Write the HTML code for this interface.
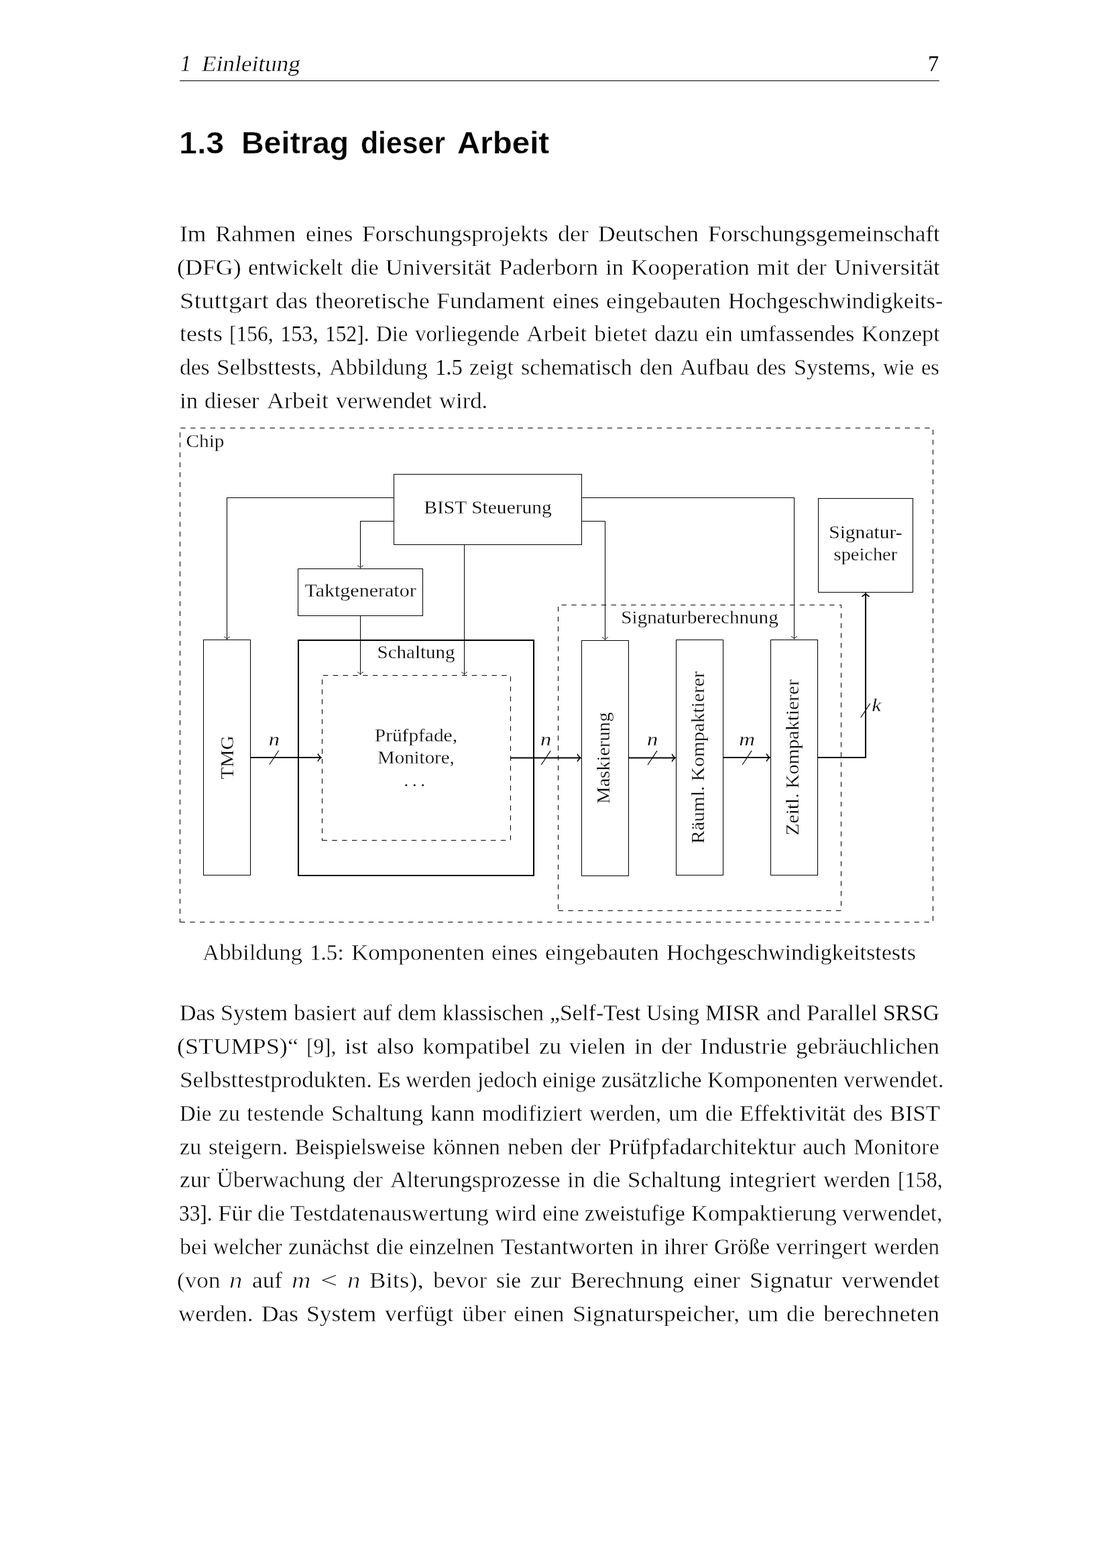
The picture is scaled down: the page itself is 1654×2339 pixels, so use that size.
<!DOCTYPE html>
<html lang="de">
<head>
<meta charset="utf-8">
<title>1.3 Beitrag dieser Arbeit</title>
<style>
html,body{margin:0;padding:0;background:#fff}
body{width:1654px;height:2339px;position:relative;color:#000}
.page{will-change:transform;position:absolute;left:0;top:0;width:1654px;height:2339px;background:#fff;overflow:hidden}
header,h2,p,figure,figcaption{margin:0;padding:0;font-weight:normal;font-size:inherit}
.ln{position:absolute;left:0;width:1654px;height:0;display:block}
.w{position:absolute;top:0;white-space:pre;line-height:1;transform-origin:0 0;display:block}
.rm,.sl{font-family:"Liberation Serif",serif}
.mi{font-family:"Liberation Serif",serif;font-style:italic}
.sf{font-family:"Liberation Sans",sans-serif;font-weight:bold}
.b{font-size:33.000px;color:#000;-webkit-text-stroke:0.46px #fff}
.h{font-size:33.000px;color:#000;-webkit-text-stroke:0.36px #fff}
.s{font-size:46.500px;color:#000;-webkit-text-stroke:0.28px #fff}
.b.c,.h.c{-webkit-text-stroke-width:0.26px}
.b.mi{-webkit-text-stroke-width:0.7px}
.rule{position:absolute;left:268px;top:119.85px;width:1133.3px;height:1.15px;background:#000}
svg{position:absolute;left:0;top:0}
svg text{font-family:"Liberation Serif",serif;font-size:26.800px;fill:#000;stroke:#fff;stroke-width:0.26px}
svg .i{font-style:italic}

</style>
</head>
<body>
<div class="page">
<header><span class="ln" style="top:78.77px"><span class="w sl c h" style="left:267.15px;transform:translateY(-1.24px) translateX(4.60px) scale(0.9854,1.0450) skewX(-9.46deg);-webkit-text-stroke-width:0.24px">1</span> <span class="w sl h" style="left:299.68px;transform:translateX(4.60px) scaleX(1.0673) skewX(-9.46deg);-webkit-text-stroke-width:0.38px">Einleitung</span> <span class="w rm c h" style="left:1383.86px;transform:translateY(-1.24px) scale(0.9854,1.0450);-webkit-text-stroke-width:0.01px">7</span></span><div class="rule"></div></header>
<h2><span class="ln" style="top:190.04px"><span class="w sf s" style="left:266.95px;transform:scaleX(1.0396);-webkit-text-stroke-width:0.48px">1.3</span> <span class="w sf s" style="left:360.47px;transform:scaleX(1.0003);-webkit-text-stroke-width:0.40px">Beitrag</span> <span class="w sf s" style="left:538.28px;transform:scaleX(0.9189);-webkit-text-stroke-width:0.27px">dieser</span> <span class="w sf s" style="left:681.69px;transform:scaleX(1.0209);-webkit-text-stroke-width:0.26px">Arbeit</span></span></h2>
<p><span class="ln" style="top:333.07px"><span class="w rm b" style="left:267.55px;transform:scaleX(1.0800);-webkit-text-stroke-width:0.37px">Im</span> <span class="w rm b" style="left:321.38px;transform:scaleX(1.0928);-webkit-text-stroke-width:0.46px">Rahmen</span> <span class="w rm b" style="left:455.80px;transform:scaleX(1.0353);-webkit-text-stroke-width:0.47px">eines</span> <span class="w rm b" style="left:540.20px;transform:scaleX(1.0734);-webkit-text-stroke-width:0.41px">Forschungsprojekts</span> <span class="w rm b" style="left:831.89px;transform:scaleX(1.0932);-webkit-text-stroke-width:0.53px">der</span> <span class="w rm b" style="left:892.15px;transform:scaleX(1.0761);-webkit-text-stroke-width:0.46px">Deutschen</span> <span class="w rm b" style="left:1056.27px;transform:scaleX(1.0536);-webkit-text-stroke-width:0.41px">Forschungsgemeinschaft</span></span>
<span class="ln" style="top:382.86px"><span class="w rm c b" style="left:263.74px;transform:translateY(-1.24px) scale(1.0883,1.0450);-webkit-text-stroke-width:0.40px">(DFG)</span> <span class="w rm b" style="left:370.39px;transform:scaleX(1.0296);-webkit-text-stroke-width:0.38px">entwickelt</span> <span class="w rm b" style="left:522.78px;transform:scaleX(1.0283);-webkit-text-stroke-width:0.46px">die</span> <span class="w rm b" style="left:575.15px;transform:scaleX(1.0767);-webkit-text-stroke-width:0.42px">Universität</span> <span class="w rm b" style="left:743.91px;transform:scaleX(1.0932);-webkit-text-stroke-width:0.50px">Paderborn</span> <span class="w rm b" style="left:903.07px;transform:scaleX(1.0535);-webkit-text-stroke-width:0.51px">in</span> <span class="w rm b" style="left:940.98px;transform:scaleX(1.0712);-webkit-text-stroke-width:0.45px">Kooperation</span> <span class="w rm b" style="left:1128.55px;transform:scaleX(1.1060);-webkit-text-stroke-width:0.49px">mit</span> <span class="w rm b" style="left:1188.10px;transform:scaleX(1.0696);-webkit-text-stroke-width:0.50px">der</span> <span class="w rm b" style="left:1244.08px;transform:scaleX(1.0767);-webkit-text-stroke-width:0.42px">Universität</span></span>
<span class="ln" style="top:432.66px"><span class="w rm b" style="left:267.55px;transform:scaleX(1.1706);-webkit-text-stroke-width:0.50px">Stuttgart</span> <span class="w rm b" style="left:411.40px;transform:scaleX(1.0812);-webkit-text-stroke-width:0.43px">das</span> <span class="w rm b" style="left:469.80px;transform:scaleX(1.0701);-webkit-text-stroke-width:0.46px">theoretische</span> <span class="w rm b" style="left:651.24px;transform:scaleX(1.0896);-webkit-text-stroke-width:0.47px">Fundament</span> <span class="w rm b" style="left:823.83px;transform:scaleX(1.0241);-webkit-text-stroke-width:0.39px">eines</span> <span class="w rm b" style="left:904.10px;transform:scaleX(1.0747);-webkit-text-stroke-width:0.52px">eingebauten</span> <span class="w rm b" style="left:1086.24px;transform:scaleX(1.0278);-webkit-text-stroke-width:0.38px">Hochgeschwindigkeits-</span></span>
<span class="ln" style="top:482.46px"><span class="w rm b" style="left:267.55px;transform:scaleX(1.0923);-webkit-text-stroke-width:0.47px">tests</span> <span class="w rm c b" style="left:342.11px;transform:translateY(-1.24px) scale(0.9528,1.0450);-webkit-text-stroke-width:0.29px">[156,</span> <span class="w rm c b" style="left:418.07px;transform:translateY(-1.24px) scale(0.9810,1.0450);-webkit-text-stroke-width:0.19px">153,</span> <span class="w rm c b" style="left:485.20px;transform:translateY(-1.24px) scale(0.9528,1.0450);-webkit-text-stroke-width:0.23px">152].</span> <span class="w rm b" style="left:561.15px;transform:scaleX(0.9936);-webkit-text-stroke-width:0.38px">Die</span> <span class="w rm b" style="left:618.98px;transform:scaleX(0.9999);-webkit-text-stroke-width:0.46px">vorliegende</span> <span class="w rm b" style="left:785.24px;transform:scaleX(1.0707);-webkit-text-stroke-width:0.46px">Arbeit</span> <span class="w rm b" style="left:885.99px;transform:scaleX(1.0867);-webkit-text-stroke-width:0.57px">bietet</span> <span class="w rm b" style="left:976.14px;transform:scaleX(1.0515);-webkit-text-stroke-width:0.46px">dazu</span> <span class="w rm b" style="left:1052.09px;transform:scaleX(1.0097);-webkit-text-stroke-width:0.48px">ein</span> <span class="w rm b" style="left:1103.29px;transform:scaleX(1.0162);-webkit-text-stroke-width:0.46px">umfassendes</span> <span class="w rm b" style="left:1285.11px;transform:scaleX(1.0451);-webkit-text-stroke-width:0.45px">Konzept</span></span>
<span class="ln" style="top:532.26px"><span class="w rm b" style="left:267.55px;transform:scaleX(1.0151);-webkit-text-stroke-width:0.52px">des</span> <span class="w rm b" style="left:323.07px;transform:scaleX(1.0645);-webkit-text-stroke-width:0.45px">Selbsttests,</span> <span class="w rm b" style="left:491.02px;transform:scaleX(1.0398);-webkit-text-stroke-width:0.47px">Abbildung</span> <span class="w rm c b" style="left:648.67px;transform:translateY(-1.24px) scale(0.9922,1.0450);-webkit-text-stroke-width:0.20px">1.5</span> <span class="w rm b" style="left:700.43px;transform:scaleX(1.0265);-webkit-text-stroke-width:0.49px">zeigt</span> <span class="w rm b" style="left:777.13px;transform:scaleX(1.0280);-webkit-text-stroke-width:0.41px">schematisch</span> <span class="w rm b" style="left:953.78px;transform:scaleX(1.0455);-webkit-text-stroke-width:0.52px">den</span> <span class="w rm b" style="left:1014.46px;transform:scaleX(1.0427);-webkit-text-stroke-width:0.45px">Aufbau</span> <span class="w rm b" style="left:1128.49px;transform:scaleX(1.0151);-webkit-text-stroke-width:0.52px">des</span> <span class="w rm b" style="left:1184.01px;transform:scaleX(1.0335);-webkit-text-stroke-width:0.40px">Systems,</span> <span class="w rm b" style="left:1317.08px;transform:scaleX(0.9708);-webkit-text-stroke-width:0.38px">wie</span> <span class="w rm b" style="left:1374.21px;transform:scaleX(0.9770);-webkit-text-stroke-width:0.41px">es</span></span>
<span class="ln" style="top:582.06px"><span class="w rm b" style="left:267.55px;transform:scaleX(1.0556);-webkit-text-stroke-width:0.47px">in</span> <span class="w rm b" style="left:305.47px;transform:scaleX(1.0340);-webkit-text-stroke-width:0.43px">dieser</span> <span class="w rm b" style="left:397.81px;transform:scaleX(1.0925);-webkit-text-stroke-width:0.47px">Arbeit</span> <span class="w rm b" style="left:500.75px;transform:scaleX(1.0451);-webkit-text-stroke-width:0.46px">verwendet</span> <span class="w rm b" style="left:655.21px;transform:scaleX(1.0511);-webkit-text-stroke-width:0.45px">wird.</span></span></p>
<figure>
<svg width="1654" height="2339" viewBox="0 0 1654 2339" fill="none" stroke="#000">
<path d="M303.50 1305.50H373.50V954.50H303.50Z" stroke-width="1.030"/>
<path d="M445.00 1306.00H796.00V955.00H445.00Z" stroke-width="2.060"/>
<path d="M480.50 1253.50H761.50V1007.50H480.50Z" stroke-width="1.030" stroke-dasharray="7.40 7.40"/>
<path d="M867.50 1306.50H937.50V955.50H867.50Z" stroke-width="1.030"/>
<path d="M1008.50 1305.50H1078.50V954.50H1008.50Z" stroke-width="1.030"/>
<path d="M1149.50 1305.50H1219.50V954.50H1149.50Z" stroke-width="1.030"/>
<path d="M587.50 812.50H867.50V707.50H587.50Z" stroke-width="1.030"/>
<path d="M444.50 918.50H630.50V848.50H444.50Z" stroke-width="1.030"/>
<path d="M1220.50 883.50H1361.50V743.50H1220.50Z" stroke-width="1.030"/>
<path d="M832.50 1358.50H1254.50V902.50H832.50Z" stroke-width="1.030" stroke-dasharray="7.40 7.40"/>
<path d="M268.50 1375.50H1391.50V638.50H268.50Z" stroke-width="1.030" stroke-dasharray="7.40 7.40"/>
<path d="M587.44 742.50L338.50 742.50L338.50 952.96" stroke-width="1.030"/>
<path d="M334.54 949.99C336.03 950.24 338.25 952.96 338.50 953.70C338.75 952.96 340.97 950.24 342.46 949.99" stroke-width="1.000" stroke-linecap="round" stroke-linejoin="round"/>
<path d="M587.44 777.50L537.50 777.50L537.50 846.66" stroke-width="1.030"/>
<path d="M533.54 843.69C535.03 843.94 537.25 846.66 537.50 847.40C537.75 846.66 539.97 843.94 541.46 843.69" stroke-width="1.000" stroke-linecap="round" stroke-linejoin="round"/>
<path d="M537.50 918.32L537.50 1005.71" stroke-width="1.030"/>
<path d="M533.54 1002.74C535.03 1002.99 537.25 1005.71 537.50 1006.45C537.75 1005.71 539.97 1002.99 541.46 1002.74" stroke-width="1.000" stroke-linecap="round" stroke-linejoin="round"/>
<path d="M692.50 812.14L692.50 1005.71" stroke-width="1.030"/>
<path d="M688.54 1002.74C690.03 1002.99 692.25 1005.71 692.50 1006.45C692.75 1005.71 694.97 1002.99 696.46 1002.74" stroke-width="1.000" stroke-linecap="round" stroke-linejoin="round"/>
<path d="M867.68 742.50L1184.50 742.50L1184.50 952.51" stroke-width="1.030"/>
<path d="M1180.54 949.54C1182.03 949.79 1184.25 952.51 1184.50 953.25C1184.75 952.51 1186.97 949.79 1188.46 949.54" stroke-width="1.000" stroke-linecap="round" stroke-linejoin="round"/>
<path d="M867.68 777.50L902.50 777.50L902.50 953.81" stroke-width="1.030"/>
<path d="M898.54 950.84C900.03 951.09 902.25 953.81 902.50 954.55C902.75 953.81 904.97 951.09 906.46 950.84" stroke-width="1.000" stroke-linecap="round" stroke-linejoin="round"/>
<path d="M373.56 1130.00L478.23 1130.00" stroke-width="2.060"/>
<path d="M474.37 1135.16C474.69 1133.22 478.23 1130.32 479.20 1130.00C478.23 1129.68 474.69 1126.78 474.37 1124.84" stroke-width="1.600" stroke-linecap="round" stroke-linejoin="round"/>
<path d="M761.64 1130.45L865.28 1130.45" stroke-width="2.060"/>
<path d="M861.42 1135.61C861.74 1133.67 865.28 1130.77 866.25 1130.45C865.28 1130.13 861.74 1127.23 861.42 1125.29" stroke-width="1.600" stroke-linecap="round" stroke-linejoin="round"/>
<path d="M937.45 1130.45L1006.33 1130.45" stroke-width="2.060"/>
<path d="M1002.47 1135.61C1002.79 1133.67 1006.33 1130.77 1007.30 1130.45C1006.33 1130.13 1002.79 1127.23 1002.47 1125.29" stroke-width="1.600" stroke-linecap="round" stroke-linejoin="round"/>
<path d="M1078.55 1130.00L1147.33 1130.00" stroke-width="2.060"/>
<path d="M1143.47 1135.16C1143.79 1133.22 1147.33 1130.32 1148.30 1130.00C1147.33 1129.68 1143.79 1126.78 1143.47 1124.84" stroke-width="1.600" stroke-linecap="round" stroke-linejoin="round"/>
<path d="M1219.70 1130.00L1291.00 1130.00L1291.00 885.67" stroke-width="2.060"/>
<path d="M1296.16 889.53C1294.22 889.21 1291.32 885.67 1291.00 884.70C1290.68 885.67 1287.78 889.21 1285.84 889.53" stroke-width="1.600" stroke-linecap="round" stroke-linejoin="round"/>
<path d="M401.80 1140.55L415.80 1119.45" stroke-width="1.150"/>
<path d="M807.20 1140.95L821.20 1119.85" stroke-width="1.150"/>
<path d="M966.00 1140.95L980.00 1119.85" stroke-width="1.150"/>
<path d="M1107.20 1140.75L1121.20 1119.65" stroke-width="1.150"/>
<path d="M1283.70 1070.45L1297.70 1049.35" stroke-width="1.150"/>
<text x="277.60" y="667.00" textLength="56.87" lengthAdjust="spacingAndGlyphs" stroke="#000" stroke-width="0.02">Chip</text>
<text x="632.34" y="766.00" textLength="190.52" lengthAdjust="spacingAndGlyphs" stroke-width="0.18">BIST Steuerung</text>
<text x="454.42" y="890.00" textLength="166.29" lengthAdjust="spacingAndGlyphs" stroke-width="0.26">Taktgenerator</text>
<text x="562.61" y="982.00" textLength="115.99" lengthAdjust="spacingAndGlyphs" stroke-width="0.26">Schaltung</text>
<text x="926.37" y="930.00" textLength="234.38" lengthAdjust="spacingAndGlyphs" stroke-width="0.30">Signaturberechnung</text>
<text x="1236.23" y="803.00" textLength="109.33" lengthAdjust="spacingAndGlyphs" stroke-width="0.38">Signatur-</text>
<text x="1243.64" y="836.00" textLength="94.51" lengthAdjust="spacingAndGlyphs" stroke-width="0.18">speicher</text>
<text x="558.81" y="1106.00" textLength="123.18" lengthAdjust="spacingAndGlyphs" stroke-width="0.14">Prüfpfade,</text>
<text x="563.11" y="1139.00" textLength="114.57" lengthAdjust="spacingAndGlyphs" stroke-width="0.18">Monitore,</text>
<text x="602.59" y="1173.00" textLength="31.42" lengthAdjust="spacing" stroke-width="0.46">...</text>
<text class="i" x="400.72" y="1112.00" textLength="16.16" lengthAdjust="spacingAndGlyphs" stroke-width="0.90">n</text>
<text class="i" x="806.12" y="1112.00" textLength="16.16" lengthAdjust="spacingAndGlyphs" stroke-width="0.98">n</text>
<text class="i" x="964.92" y="1112.00" textLength="16.16" lengthAdjust="spacingAndGlyphs" stroke-width="0.94">n</text>
<text class="i" x="1102.17" y="1112.00" textLength="23.65" lengthAdjust="spacingAndGlyphs" stroke-width="1.18">m</text>
<text class="i" x="1300.20" y="1061.00" textLength="14.04" lengthAdjust="spacingAndGlyphs" stroke-width="0.46">k</text>
<text transform="translate(347.77 1129.90) rotate(-90)" x="-32.65" y="0" textLength="65.30" lengthAdjust="spacingAndGlyphs" stroke-width="0.02">TMG</text>
<text transform="translate(909.17 1130.80) rotate(-90)" x="-68.20" y="0" textLength="136.40" lengthAdjust="spacingAndGlyphs" stroke-width="0.50">Maskierung</text>
<text transform="translate(1050.27 1129.95) rotate(-90)" x="-128.60" y="0" textLength="257.20" lengthAdjust="spacingAndGlyphs" stroke-width="0.30">Räuml. Kompaktierer</text>
<text transform="translate(1191.37 1129.80) rotate(-90)" x="-116.45" y="0" textLength="232.90" lengthAdjust="spacingAndGlyphs" stroke-width="0.38">Zeitl. Kompaktierer</text>
</svg>
<figcaption><span class="ln" style="top:1405.35px"><span class="w rm b" style="left:302.44px;transform:scaleX(1.0557);-webkit-text-stroke-width:0.51px">Abbildung</span> <span class="w rm c b" style="left:462.30px;transform:translateY(-1.24px) scale(1.0032,1.0450);-webkit-text-stroke-width:0.27px">1.5:</span> <span class="w rm b" style="left:523.74px;transform:scaleX(1.0626);-webkit-text-stroke-width:0.50px">Komponenten</span> <span class="w rm b" style="left:733.28px;transform:scaleX(1.0150);-webkit-text-stroke-width:0.43px">eines</span> <span class="w rm b" style="left:812.93px;transform:scaleX(1.0651);-webkit-text-stroke-width:0.53px">eingebauten</span> <span class="w rm b" style="left:993.57px;transform:scaleX(1.0352);-webkit-text-stroke-width:0.42px">Hochgeschwindigkeitstests</span></span></figcaption>
</figure>
<p><span class="ln" style="top:1495.34px"><span class="w rm b" style="left:267.55px;transform:scaleX(1.0294);-webkit-text-stroke-width:0.39px">Das</span> <span class="w rm b" style="left:329.17px;transform:scaleX(1.0307);-webkit-text-stroke-width:0.39px">System</span> <span class="w rm b" style="left:438.13px;transform:scaleX(1.0687);-webkit-text-stroke-width:0.46px">basiert</span> <span class="w rm b" style="left:540.90px;transform:scaleX(1.0293);-webkit-text-stroke-width:0.40px">auf</span> <span class="w rm b" style="left:593.06px;transform:scaleX(1.0281);-webkit-text-stroke-width:0.52px">dem</span> <span class="w rm b" style="left:660.24px;transform:scaleX(1.0045);-webkit-text-stroke-width:0.37px">klassischen</span> <span class="w rm b" style="left:820.01px;transform:scaleX(1.0162);-webkit-text-stroke-width:0.31px">„Self-Test</span> <span class="w rm b" style="left:964.24px;transform:scaleX(1.0013);-webkit-text-stroke-width:0.44px">Using</span> <span class="w rm c b" style="left:1051.97px;transform:translateY(-1.24px) scale(1.0142,1.0450);-webkit-text-stroke-width:0.30px">MISR</span> <span class="w rm b" style="left:1142.58px;transform:scaleX(1.0774);-webkit-text-stroke-width:0.52px">and</span> <span class="w rm b" style="left:1202.67px;transform:scaleX(1.0495);-webkit-text-stroke-width:0.41px">Parallel</span> <span class="w rm c b" style="left:1317.21px;transform:translateY(-1.24px) scale(1.0158,1.0450);-webkit-text-stroke-width:0.20px">SRSG</span></span>
<span class="ln" style="top:1545.14px"><span class="w rm c b" style="left:263.74px;transform:translateY(-1.24px) scale(1.0968,1.0450);-webkit-text-stroke-width:0.41px">(STUMPS)“</span> <span class="w rm c b" style="left:457.29px;transform:translateY(-1.24px) scale(0.9463,1.0450);-webkit-text-stroke-width:0.38px">[9],</span> <span class="w rm b" style="left:514.05px;transform:scaleX(1.1285);-webkit-text-stroke-width:0.40px">ist</span> <span class="w rm b" style="left:561.77px;transform:scaleX(1.0431);-webkit-text-stroke-width:0.34px">also</span> <span class="w rm b" style="left:629.77px;transform:scaleX(1.0860);-webkit-text-stroke-width:0.46px">kompatibel</span> <span class="w rm b" style="left:803.50px;transform:scaleX(1.0646);-webkit-text-stroke-width:0.42px">zu</span> <span class="w rm b" style="left:849.21px;transform:scaleX(1.0397);-webkit-text-stroke-width:0.47px">vielen</span> <span class="w rm b" style="left:945.58px;transform:scaleX(1.0767);-webkit-text-stroke-width:0.45px">in</span> <span class="w rm b" style="left:985.76px;transform:scaleX(1.0932);-webkit-text-stroke-width:0.51px">der</span> <span class="w rm b" style="left:1044.36px;transform:scaleX(1.1088);-webkit-text-stroke-width:0.45px">Industrie</span> <span class="w rm b" style="left:1186.97px;transform:scaleX(1.0623);-webkit-text-stroke-width:0.43px">gebräuchlichen</span></span>
<span class="ln" style="top:1594.94px"><span class="w rm b" style="left:267.55px;transform:scaleX(1.0692);-webkit-text-stroke-width:0.48px">Selbsttestprodukten.</span> <span class="w rm b" style="left:562.90px;transform:scaleX(1.0379);-webkit-text-stroke-width:0.28px">Es</span> <span class="w rm b" style="left:605.35px;transform:scaleX(1.0117);-webkit-text-stroke-width:0.46px">werden</span> <span class="w rm b" style="left:711.79px;transform:scaleX(1.0163);-webkit-text-stroke-width:0.47px">jedoch</span> <span class="w rm b" style="left:809.40px;transform:scaleX(0.9880);-webkit-text-stroke-width:0.47px">einige</span> <span class="w rm b" style="left:897.27px;transform:scaleX(1.0195);-webkit-text-stroke-width:0.39px">zusätzliche</span> <span class="w rm b" style="left:1054.91px;transform:scaleX(1.0414);-webkit-text-stroke-width:0.48px">Komponenten</span> <span class="w rm b" style="left:1257.82px;transform:scaleX(1.0267);-webkit-text-stroke-width:0.49px">verwendet.</span></span>
<span class="ln" style="top:1644.74px"><span class="w rm b" style="left:267.55px;transform:scaleX(0.9936);-webkit-text-stroke-width:0.38px">Die</span> <span class="w rm b" style="left:325.57px;transform:scaleX(1.0218);-webkit-text-stroke-width:0.48px">zu</span> <span class="w rm b" style="left:368.08px;transform:scaleX(1.0659);-webkit-text-stroke-width:0.54px">testende</span> <span class="w rm b" style="left:493.98px;transform:scaleX(1.0394);-webkit-text-stroke-width:0.41px">Schaltung</span> <span class="w rm b" style="left:641.84px;transform:scaleX(1.0340);-webkit-text-stroke-width:0.36px">kann</span> <span class="w rm b" style="left:718.85px;transform:scaleX(1.0203);-webkit-text-stroke-width:0.46px">modifiziert</span> <span class="w rm b" style="left:879.12px;transform:scaleX(1.0162);-webkit-text-stroke-width:0.50px">werden,</span> <span class="w rm b" style="left:996.85px;transform:scaleX(1.0495);-webkit-text-stroke-width:0.53px">um</span> <span class="w rm b" style="left:1051.78px;transform:scaleX(1.0097);-webkit-text-stroke-width:0.50px">die</span> <span class="w rm b" style="left:1103.15px;transform:scaleX(1.0594);-webkit-text-stroke-width:0.36px">Effektivität</span> <span class="w rm b" style="left:1272.37px;transform:scaleX(1.0099);-webkit-text-stroke-width:0.51px">des</span> <span class="w rm c b" style="left:1327.45px;transform:translateY(-1.24px) scale(1.0457,1.0450);-webkit-text-stroke-width:0.32px">BIST</span></span>
<span class="ln" style="top:1694.54px"><span class="w rm b" style="left:267.55px;transform:scaleX(1.0343);-webkit-text-stroke-width:0.41px">zu</span> <span class="w rm b" style="left:310.63px;transform:scaleX(1.0496);-webkit-text-stroke-width:0.47px">steigern.</span> <span class="w rm b" style="left:439.80px;transform:scaleX(0.9906);-webkit-text-stroke-width:0.33px">Beispielsweise</span> <span class="w rm b" style="left:644.96px;transform:scaleX(1.0396);-webkit-text-stroke-width:0.44px">können</span> <span class="w rm b" style="left:756.79px;transform:scaleX(1.0568);-webkit-text-stroke-width:0.57px">neben</span> <span class="w rm b" style="left:850.90px;transform:scaleX(1.0621);-webkit-text-stroke-width:0.52px">der</span> <span class="w rm b" style="left:906.51px;transform:scaleX(1.0819);-webkit-text-stroke-width:0.43px">Prüfpfadarchitektur</span> <span class="w rm b" style="left:1196.90px;transform:scaleX(1.0491);-webkit-text-stroke-width:0.38px">auch</span> <span class="w rm b" style="left:1273.08px;transform:scaleX(1.0421);-webkit-text-stroke-width:0.50px">Monitore</span></span>
<span class="ln" style="top:1744.33px"><span class="w rm b" style="left:267.55px;transform:scaleX(1.0685);-webkit-text-stroke-width:0.39px">zur</span> <span class="w rm b" style="left:323.40px;transform:scaleX(1.0362);-webkit-text-stroke-width:0.41px">Überwachung</span> <span class="w rm b" style="left:526.02px;transform:scaleX(1.0685);-webkit-text-stroke-width:0.51px">der</span> <span class="w rm b" style="left:581.87px;transform:scaleX(1.0403);-webkit-text-stroke-width:0.41px">Alterungsprozesse</span> <span class="w rm b" style="left:846.28px;transform:scaleX(1.0524);-webkit-text-stroke-width:0.52px">in</span> <span class="w rm b" style="left:884.13px;transform:scaleX(1.0272);-webkit-text-stroke-width:0.47px">die</span> <span class="w rm b" style="left:936.38px;transform:scaleX(1.0574);-webkit-text-stroke-width:0.40px">Schaltung</span> <span class="w rm b" style="left:1086.77px;transform:scaleX(1.0797);-webkit-text-stroke-width:0.50px">integriert</span> <span class="w rm b" style="left:1228.18px;transform:scaleX(1.0290);-webkit-text-stroke-width:0.46px">werden</span> <span class="w rm c b" style="left:1338.95px;transform:translateY(-1.24px) scale(0.9693,1.0450);-webkit-text-stroke-width:0.35px">[158,</span></span>
<span class="ln" style="top:1794.13px"><span class="w rm c b" style="left:266.74px;transform:translateY(-1.24px) scale(0.9487,1.0450);-webkit-text-stroke-width:0.18px">33].</span> <span class="w rm b" style="left:324.93px;transform:scaleX(1.1035);-webkit-text-stroke-width:0.36px">Für</span> <span class="w rm b" style="left:384.14px;transform:scaleX(1.0097);-webkit-text-stroke-width:0.50px">die</span> <span class="w rm b" style="left:433.49px;transform:scaleX(1.0641);-webkit-text-stroke-width:0.47px">Testdatenauswertung</span> <span class="w rm b" style="left:738.06px;transform:scaleX(1.0242);-webkit-text-stroke-width:0.42px">wird</span> <span class="w rm b" style="left:808.64px;transform:scaleX(0.9984);-webkit-text-stroke-width:0.46px">eine</span> <span class="w rm b" style="left:872.15px;transform:scaleX(0.9845);-webkit-text-stroke-width:0.37px">zweistufige</span> <span class="w rm b" style="left:1030.56px;transform:scaleX(1.0469);-webkit-text-stroke-width:0.46px">Kompaktierung</span> <span class="w rm b" style="left:1256.05px;transform:scaleX(1.0265);-webkit-text-stroke-width:0.48px">verwendet,</span></span>
<span class="ln" style="top:1843.93px"><span class="w rm b" style="left:267.55px;transform:scaleX(1.0323);-webkit-text-stroke-width:0.56px">bei</span> <span class="w rm b" style="left:318.36px;transform:scaleX(0.9830);-webkit-text-stroke-width:0.39px">welcher</span> <span class="w rm b" style="left:430.20px;transform:scaleX(1.0491);-webkit-text-stroke-width:0.44px">zunächst</span> <span class="w rm b" style="left:560.50px;transform:scaleX(1.0097);-webkit-text-stroke-width:0.51px">die</span> <span class="w rm b" style="left:610.39px;transform:scaleX(1.0082);-webkit-text-stroke-width:0.47px">einzelnen</span> <span class="w rm b" style="left:747.07px;transform:scaleX(1.0637);-webkit-text-stroke-width:0.45px">Testantworten</span> <span class="w rm b" style="left:954.59px;transform:scaleX(1.0345);-webkit-text-stroke-width:0.40px">in</span> <span class="w rm b" style="left:990.36px;transform:scaleX(1.0515);-webkit-text-stroke-width:0.51px">ihrer</span> <span class="w rm b" style="left:1065.04px;transform:scaleX(1.0079);-webkit-text-stroke-width:0.35px">Größe</span> <span class="w rm b" style="left:1157.34px;transform:scaleX(1.0476);-webkit-text-stroke-width:0.48px">verringert</span> <span class="w rm b" style="left:1302.85px;transform:scaleX(1.0114);-webkit-text-stroke-width:0.48px">werden</span></span>
<span class="ln" style="top:1893.73px"><span class="w rm b" style="left:263.74px;transform:scaleX(1.0661);-webkit-text-stroke-width:0.58px">(von</span> <span class="w mi b" style="left:342.23px;transform:scaleX(1.1764);-webkit-text-stroke-width:0.74px">n</span> <span class="w rm b" style="left:375.62px;transform:scaleX(1.0713);-webkit-text-stroke-width:0.35px">auf</span> <span class="w mi b" style="left:434.74px;transform:scaleX(1.1929);-webkit-text-stroke-width:0.70px">m</span> <span class="w rm b" style="left:477.76px;transform:scaleX(1.3580);-webkit-text-stroke-width:0.29px">&lt;</span> <span class="w mi b" style="left:517.60px;transform:scaleX(1.1764);-webkit-text-stroke-width:0.73px">n</span> <span class="w rm b" style="left:550.99px;transform:scaleX(1.1154);-webkit-text-stroke-width:0.45px">Bits),</span> <span class="w rm b" style="left:645.77px;transform:scaleX(1.0663);-webkit-text-stroke-width:0.51px">bevor</span> <span class="w rm b" style="left:739.88px;transform:scaleX(1.0100);-webkit-text-stroke-width:0.33px">sie</span> <span class="w rm b" style="left:790.91px;transform:scaleX(1.0932);-webkit-text-stroke-width:0.44px">zur</span> <span class="w rm b" style="left:850.93px;transform:scaleX(1.0605);-webkit-text-stroke-width:0.45px">Berechnung</span> <span class="w rm b" style="left:1034.00px;transform:scaleX(1.0617);-webkit-text-stroke-width:0.43px">einer</span> <span class="w rm b" style="left:1118.01px;transform:scaleX(1.1040);-webkit-text-stroke-width:0.43px">Signatur</span> <span class="w rm b" style="left:1255.42px;transform:scaleX(1.0662);-webkit-text-stroke-width:0.46px">verwendet</span></span>
<span class="ln" style="top:1943.53px"><span class="w rm b" style="left:266.38px;transform:scaleX(1.0580);-webkit-text-stroke-width:0.47px">werden.</span> <span class="w rm b" style="left:390.03px;transform:scaleX(1.0715);-webkit-text-stroke-width:0.37px">Das</span> <span class="w rm b" style="left:457.18px;transform:scaleX(1.0731);-webkit-text-stroke-width:0.38px">System</span> <span class="w rm b" style="left:573.64px;transform:scaleX(1.0767);-webkit-text-stroke-width:0.45px">verfügt</span> <span class="w rm b" style="left:688.73px;transform:scaleX(1.1154);-webkit-text-stroke-width:0.53px">über</span> <span class="w rm b" style="left:766.30px;transform:scaleX(1.0571);-webkit-text-stroke-width:0.46px">einen</span> <span class="w rm b" style="left:854.01px;transform:scaleX(1.0885);-webkit-text-stroke-width:0.44px">Signaturspeicher,</span> <span class="w rm b" style="left:1115.11px;transform:scaleX(1.0924);-webkit-text-stroke-width:0.57px">um</span> <span class="w rm b" style="left:1173.34px;transform:scaleX(1.0509);-webkit-text-stroke-width:0.47px">die</span> <span class="w rm b" style="left:1227.89px;transform:scaleX(1.0864);-webkit-text-stroke-width:0.50px">berechneten</span></span></p>
</div>
</body>
</html>
